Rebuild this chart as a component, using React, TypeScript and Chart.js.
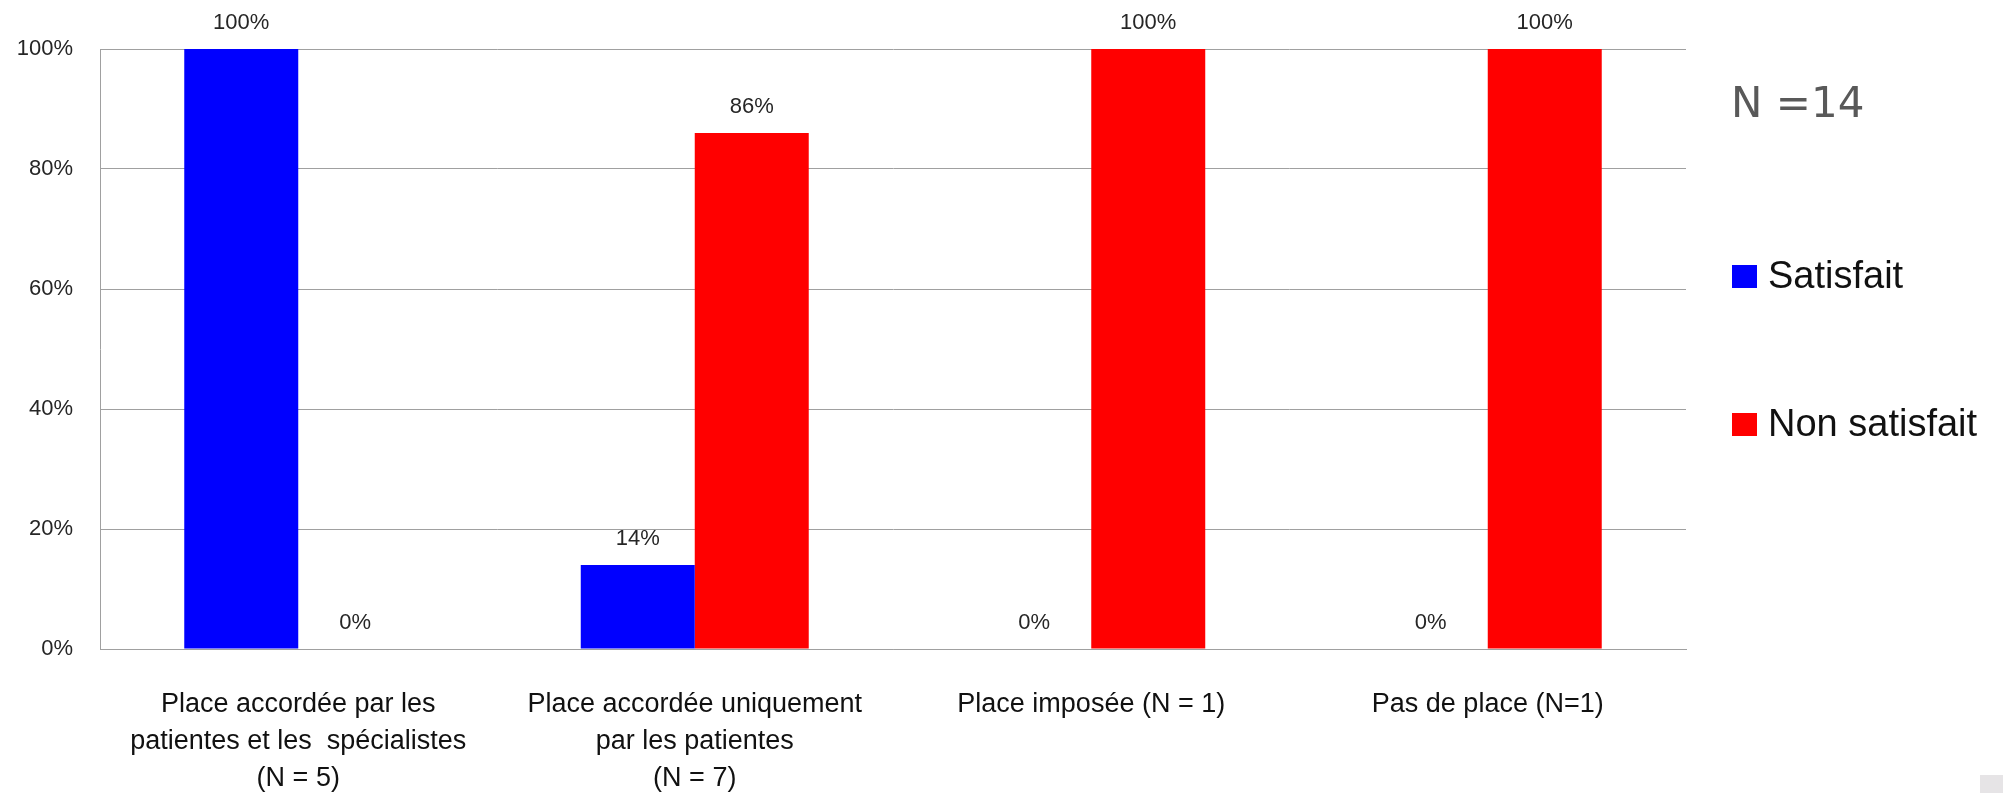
import React, { useEffect, useRef } from "react";
import { Chart, registerables } from "chart.js";

Chart.register(...registerables);

const categories: (string | string[])[] = [
  ["Place accordée par les", "patientes et les  spécialistes", "(N = 5)"],
  ["Place accordée uniquement", "par les patientes", "(N = 7)"],
  "Place imposée (N = 1)",
  "Pas de place (N=1)",
];
const seriesNames = ["Satisfait", "Non satisfait"];
const satisfait = [100, 14, 0, 0];
const nonSatisfait = [0, 86, 100, 100];
const seriesColors = ["#0000ff", "#ff0000"];
const yTicks = [0, 20, 40, 60, 80, 100];
const totalLabel = "N =14";

const FONT = "'Liberation Sans', Arial, sans-serif";

const valueLabels = {
  id: "valueLabels",
  afterDatasetsDraw(chart: any) {
    const ctx = chart.ctx;
    ctx.save();
    ctx.font = `22px ${FONT}`;
    ctx.fillStyle = "#262626";
    ctx.textAlign = "center";
    ctx.textBaseline = "middle";
    chart.data.datasets.forEach((ds: any, di: number) => {
      const meta = chart.getDatasetMeta(di);
      meta.data.forEach((bar: any, i: number) => {
        ctx.fillText(`${ds.data[i]}%`, bar.x, bar.y - 26);
      });
    });
    ctx.restore();
  },
};

const sideLegend = {
  id: "sideLegend",
  afterDraw(chart: any) {
    const ctx = chart.ctx;
    ctx.save();
    ctx.textBaseline = "middle";
    ctx.textAlign = "left";
    ctx.font = `42px 'DejaVu Sans', sans-serif`;
    ctx.fillStyle = "#595959";
    ctx.fillText(totalLabel, 1731, 106);
    const ys = [277, 425];
    chart.data.datasets.forEach((ds: any, i: number) => {
      ctx.fillStyle = ds.backgroundColor;
      ctx.fillRect(1732, ys[i] - 12, 25, 23);
      ctx.fillStyle = "#111";
      ctx.font = `38px ${FONT}`;
      ctx.fillText(ds.label, 1768, ys[i] + 1);
    });
    ctx.restore();
  },
};

export default function App() {
  const ref = useRef<HTMLCanvasElement | null>(null);
  useEffect(() => {
    if (!ref.current) return;
    const chart = new Chart(ref.current, {
      type: "bar",
      data: {
        labels: categories,
        datasets: [
          { label: seriesNames[0], data: satisfait, backgroundColor: seriesColors[0] },
          { label: seriesNames[1], data: nonSatisfait, backgroundColor: seriesColors[1] },
        ],
      },
      options: {
        animation: false,
        responsive: false,
        devicePixelRatio: 1,
        layout: { padding: { top: 49, right: 317, left: 0, bottom: 0 } },
        datasets: { bar: { barPercentage: 1, categoryPercentage: 0.575 } },
        plugins: {
          legend: { display: false },
          tooltip: { enabled: false },
        },
        scales: {
          x: {
            grid: { display: false, drawTicks: false },
            border: { display: true, color: "#a0a0a0", width: 1 },
            ticks: {
              color: "#111",
              font: { family: FONT, size: 27, lineHeight: 1.37 },
              padding: 37,
              maxRotation: 0,
              autoSkip: false,
            },
            afterFit(scale: any) {
              scale.height = 144;
            },
          },
          y: {
            min: 0,
            max: 100,
            afterBuildTicks(scale: any) {
              scale.ticks = yTicks.map((v) => ({ value: v }));
            },
            grid: { color: "#a0a0a0", lineWidth: 1, drawTicks: false },
            border: { display: true, color: "#a0a0a0", width: 1 },
            ticks: {
              color: "#262626",
              font: { family: FONT, size: 22 },
              padding: 27,
              callback: (v: any) => `${v}%`,
            },
            afterFit(scale: any) {
              scale.width = 100;
            },
          },
        },
      },
      plugins: [valueLabels, sideLegend],
    });
    return () => chart.destroy();
  }, []);
  return (
    <div style={{ position: "absolute", left: 0, top: 0, width: 2003, height: 793, background: "#fff" }}>
      <canvas ref={ref} width={2003} height={793} style={{ display: "block" }} />
      <div style={{ position: "absolute", left: 1980, top: 775, width: 23, height: 18, background: "#e6e4e6" }} />
    </div>
  );
}
